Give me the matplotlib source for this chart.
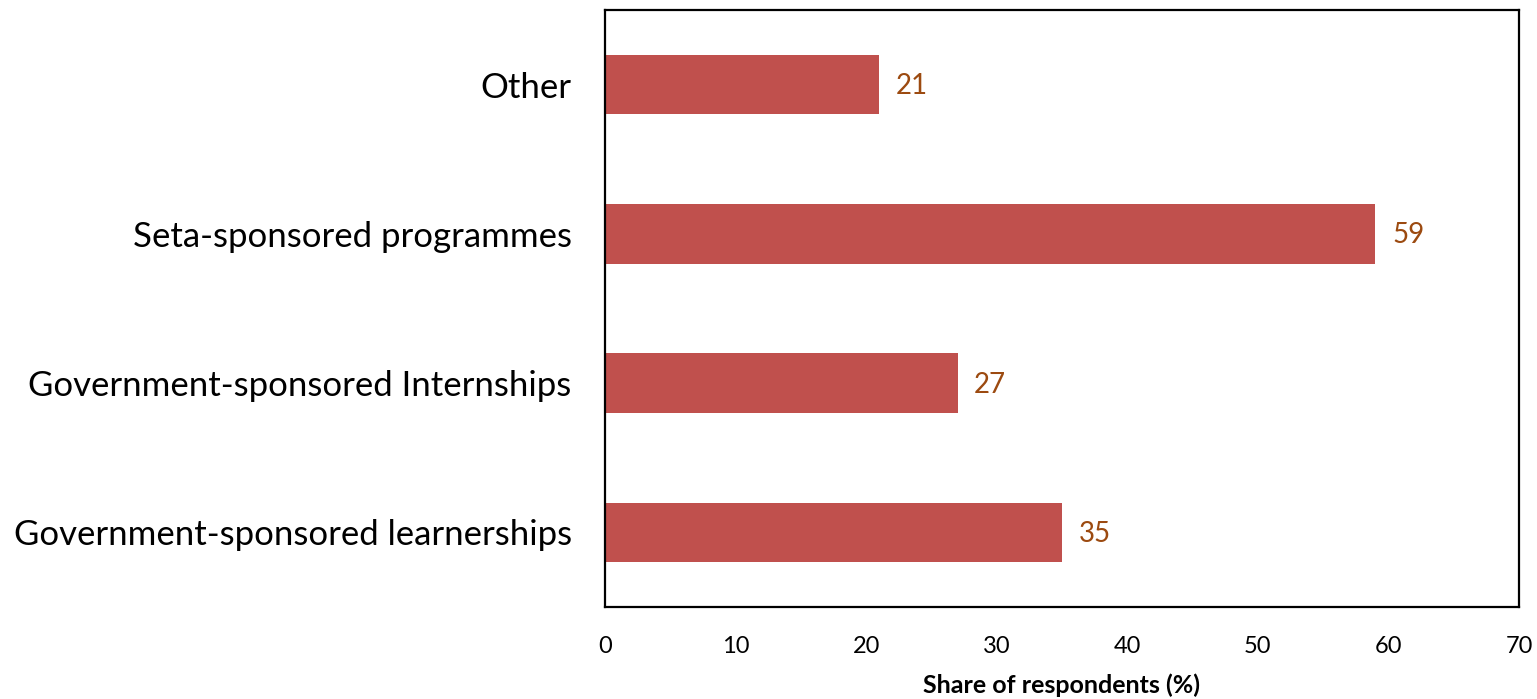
import matplotlib.pyplot as plt

plt.rcParams['font.family'] = ['Lato', 'DejaVu Sans']

# Share of respondents by programme type
categories = ['Government-sponsored learnerships', 'Government-sponsored Internships',
              'Seta-sponsored programmes', 'Other']
shares = [35, 27, 59, 21]

fig = plt.figure(figsize=(15.37, 6.99), dpi=100)
ax = fig.add_axes([0.3936, 0.1316, 0.5947, 0.8541])

bars = ax.barh(categories, shares, height=0.4, color='#C0504D')

for bar, v in zip(bars, shares):
    ax.annotate(f'{v}', (bar.get_width(), bar.get_y() + bar.get_height() / 2),
                xytext=(12, -1), textcoords='offset points',
                va='center', ha='left', fontsize=20, color='#9C4A10')

ax.set_xlim(0, 70)
ax.set_ylim(-0.5, 3.5)
ax.set_xticks(range(0, 71, 10))
ax.tick_params(axis='x', length=0, labelsize=17, pad=21)
ax.tick_params(axis='y', length=0, labelsize=25, pad=24)
for s in ax.spines.values():
    s.set_linewidth(1.6)
    s.set_color('black')

ax.set_xlabel('Share of respondents (%)', fontsize=18, fontweight='bold', labelpad=12)

fig.savefig('out.png', dpi=100)
